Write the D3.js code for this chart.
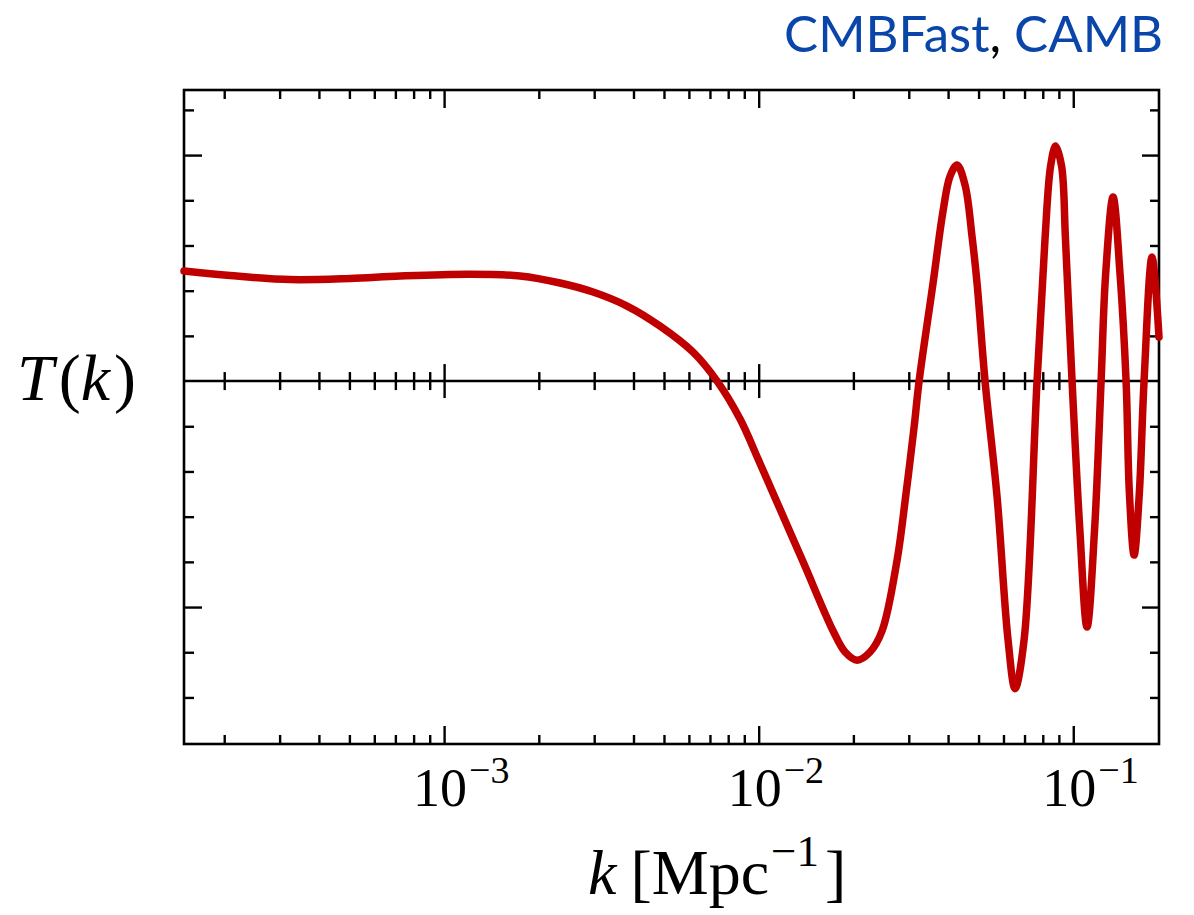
<!DOCTYPE html>
<html><head><meta charset="utf-8">
<script src="https://cdn.jsdelivr.net/npm/d3@7"></script>
<style>body{margin:0;background:#fff} svg{display:block}</style>
</head><body><svg id="c" width="1194" height="915"></svg>
<script>
// wavenumber k [Mpc^-1]
const kValues = [1.49e-4, 2.09e-4, 3.24e-4, 5.02e-4, 7.25e-4, 1.21e-3, 1.744e-3, 2.337e-3, 2.976e-3, 3.817e-3,
  4.86e-3, 6.186e-3, 7.376e-3, 8.727e-3, 9.956e-3, 1.111e-2, 1.384e-2, 1.723e-2, 1.882e-2, 2.055e-2,
  2.260e-2, 2.468e-2, 2.754e-2, 2.941e-2, 3.119e-2, 3.236e-2, 3.584e-2, 3.855e-2, 4.059e-2, 4.272e-2,
  4.530e-2, 4.769e-2, 4.944e-2, 5.243e-2, 5.726e-2, 6.205e-2, 6.531e-2, 6.976e-2, 7.672e-2, 8.132e-2,
  8.471e-2, 8.785e-2, 9.180e-2, 9.445e-2, 9.913e-2, 0.1049, 0.1106, 0.1169, 0.1226, 0.1267,
  0.1338, 0.1409, 0.1472, 0.1508, 0.1561, 0.1622, 0.1679, 0.1780, 0.1873];
// transfer function T(k), arbitrary units (major tick = 1)
const tValues = [0.487, 0.467, 0.449, 0.454, 0.465, 0.473, 0.465, 0.434, 0.394, 0.332,
  0.243, 0.128, 0.0, -0.168, -0.345, -0.496, -0.800, -1.105, -1.199, -1.235,
  -1.199, -1.105, -0.792, -0.496, -0.204, 0.0, 0.434, 0.752, 0.907, 0.956,
  0.867, 0.637, 0.434, 0.0, -0.513, -1.146, -1.361, -1.146, 0.0, 0.629,
  0.951, 1.040, 0.951, 0.629, 0.0, -0.655, -1.088, -0.655, 0.0, 0.469,
  0.814, 0.469, 0.0, -0.494, -0.770, -0.494, 0.0, 0.549, 0.195];
const xDomain = [1.49e-4, 0.1873];
const yDomain = [-1.606, 1.288];
const xLabelValues = [1e-3, 1e-2, 1e-1];
const xLabelBase = ["10", "10", "10"];
const xLabelExp = ["\u22123", "\u22122", "\u22121"];
const yMinorTicks = [-1.4, -1.2, -0.8, -0.6, -0.4, -0.2, 0.2, 0.4, 0.6, 0.8, 1.2];
const yMajorTicks = [-1, 1];

const svg = d3.select("#c");
const L = 184, R = 1159, T = 90, B = 744;
const x = d3.scaleLog().domain(xDomain).range([L, R]);
const y = d3.scaleLinear().domain(yDomain).range([B, T]);

const allX = x.ticks().filter(v => v >= xDomain[0] && v <= xDomain[1]);
const isMajor = v => Math.abs(Math.log10(v) - Math.round(Math.log10(v))) < 1e-9;
const xMajor = allX.filter(isMajor);
const xMinor = allX.filter(v => !isMajor(v));

function styleAxis(g) {
  g.select(".domain").remove();
  g.selectAll(".tick line").attr("stroke", "#000").attr("stroke-width", 2.4);
  g.selectAll(".tick text").remove();
}
function addAxis(gen, transform) {
  svg.append("g").attr("transform", transform).call(gen).call(styleAxis);
}
const fmt = () => "";
// top (ticks inward)
addAxis(d3.axisBottom(x).tickValues(xMinor).tickSize(9).tickFormat(fmt), `translate(0,${T})`);
addAxis(d3.axisBottom(x).tickValues(xMajor).tickSize(18).tickFormat(fmt), `translate(0,${T})`);
// bottom
addAxis(d3.axisTop(x).tickValues(xMinor).tickSize(9).tickFormat(fmt), `translate(0,${B})`);
addAxis(d3.axisTop(x).tickValues(xMajor).tickSize(18).tickFormat(fmt), `translate(0,${B})`);
// zero line ticks both ways
const y0 = y(0);
addAxis(d3.axisTop(x).tickValues(xMinor).tickSize(9).tickFormat(fmt), `translate(0,${y0})`);
addAxis(d3.axisBottom(x).tickValues(xMinor).tickSize(9).tickFormat(fmt), `translate(0,${y0})`);
addAxis(d3.axisTop(x).tickValues(xMajor).tickSize(17).tickFormat(fmt), `translate(0,${y0})`);
addAxis(d3.axisBottom(x).tickValues(xMajor).tickSize(17).tickFormat(fmt), `translate(0,${y0})`);
// left / right
addAxis(d3.axisRight(y).tickValues(yMinorTicks).tickSize(10).tickFormat(fmt), `translate(${L},0)`);
addAxis(d3.axisRight(y).tickValues(yMajorTicks).tickSize(18).tickFormat(fmt), `translate(${L},0)`);
addAxis(d3.axisLeft(y).tickValues(yMinorTicks).tickSize(9).tickFormat(fmt), `translate(${R},0)`);
addAxis(d3.axisLeft(y).tickValues(yMajorTicks).tickSize(17).tickFormat(fmt), `translate(${R},0)`);

// zero line
svg.append("line").attr("x1", L).attr("x2", R).attr("y1", y0).attr("y2", y0)
  .attr("stroke", "#000").attr("stroke-width", 2.6);
// frame
svg.append("rect").attr("x", L).attr("y", T).attr("width", R - L).attr("height", B - T)
  .attr("fill", "none").attr("stroke", "#000").attr("stroke-width", 2.6);

// curve
const data = kValues.map((k, i) => ({k, t: tValues[i]}));
svg.append("path").datum(data)
  .attr("d", d3.line().x(d => x(d.k)).y(d => y(d.t)).curve(d3.curveCatmullRom.alpha(0.5)))
  .attr("fill", "none").attr("stroke", "#c00000").attr("stroke-width", 7.5)
  .attr("stroke-linecap", "round").attr("stroke-linejoin", "round");

// tick labels
const serif = "'Liberation Serif', 'Times New Roman', serif";
xLabelValues.forEach((v, i) => {
  const t = svg.append("text").attr("x", x(v) - 31).attr("y", 806)
    .attr("font-family", serif).attr("font-size", 54).attr("fill", "#000");
  t.append("tspan").text(xLabelBase[i]);
  t.append("tspan").attr("dx", 2).attr("dy", -23).attr("font-size", 38).text(xLabelExp[i]);
});

// x axis label
const xl = svg.append("text").attr("x", 588).attr("y", 894)
  .attr("font-family", serif).attr("font-size", 64).attr("fill", "#000");
xl.append("tspan").attr("font-style", "italic").text("k");
xl.append("tspan").attr("dx", 14).text("[Mpc");
xl.append("tspan").attr("dx", 2).attr("dy", -28).attr("font-size", 45).text("\u22121");
xl.append("tspan").attr("dx", 6).attr("dy", 28).text("]");

// y axis label
const yl = svg.append("text").attr("x", 17).attr("y", 400)
  .attr("font-family", serif).attr("font-size", 66).attr("fill", "#000");
yl.append("tspan").attr("font-style", "italic").text("T");
yl.append("tspan").attr("dx", 5).text("(");
yl.append("tspan").attr("font-style", "italic").text("k");
yl.append("tspan").attr("dx", 4).text(")");

// title
const tt = svg.append("text").attr("x", 1163).attr("y", 52).attr("text-anchor", "end")
  .attr("font-family", "Lato, 'Open Sans', sans-serif").attr("font-size", 51);
tt.append("tspan").attr("fill", "#0a46a9").text("CMBFast");
tt.append("tspan").attr("fill", "#000").text(",");
tt.append("tspan").attr("fill", "#0a46a9").text(" CAMB");
</script></body></html>
